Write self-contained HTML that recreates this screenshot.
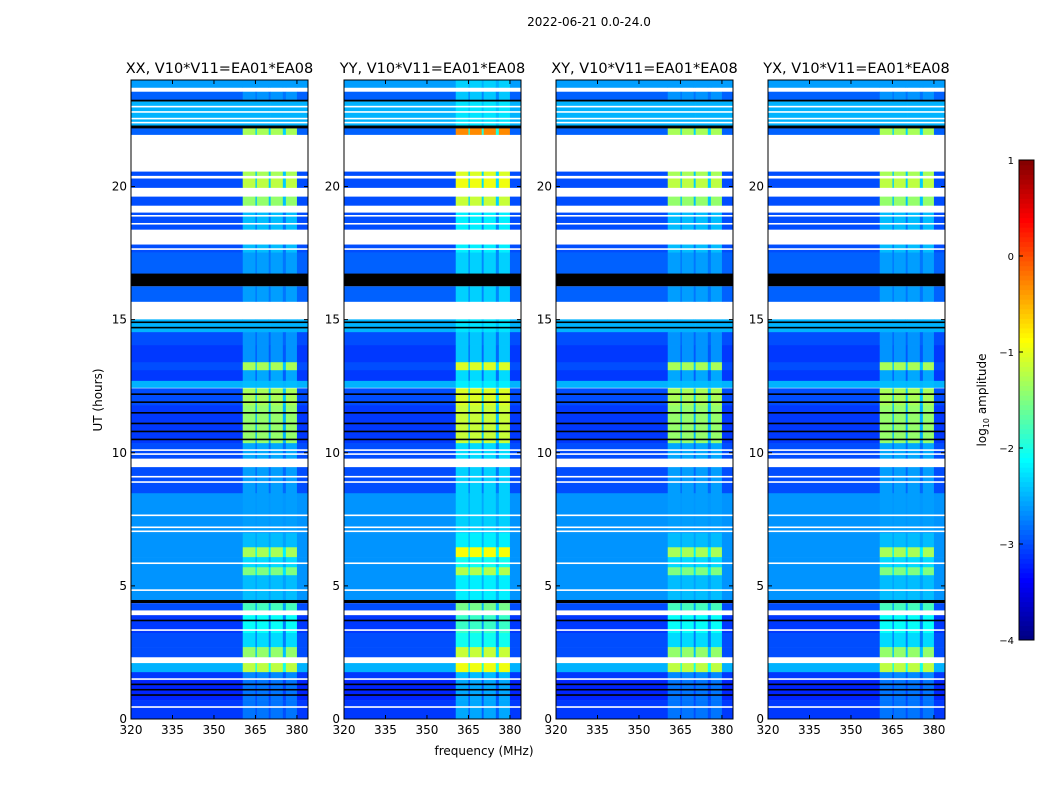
<!DOCTYPE html>
<html><head><meta charset="utf-8"><style>
body{margin:0;background:#fff;}
svg text{font-family:"DejaVu Sans","Liberation Sans",sans-serif;fill:#000;}
</style></head><body>
<svg id="fig" width="1050" height="800" xmlns="http://www.w3.org/2000/svg">
<text x="589" y="26" font-size="12" text-anchor="middle">2022-06-21 0.0-24.0</text>
<text x="484" y="755" font-size="12" text-anchor="middle">frequency (MHz)</text>
<text transform="translate(102,400) rotate(-90)" font-size="12" text-anchor="middle">UT (hours)</text>
<text transform="translate(986,400) rotate(-90)" font-size="12" text-anchor="middle">log<tspan font-size="8" dy="3">10</tspan><tspan dy="-3"> amplitude</tspan></text>
<g id="panels"></g>
<g id="cbar"></g>
</svg>
<script>
const panelTitles=["XX, V10*V11=EA01*EA08","YY, V10*V11=EA01*EA08","XY, V10*V11=EA01*EA08","YX, V10*V11=EA01*EA08"];
const bandOffset=[0,0.25,0,0];
const xTicks=[320,335,350,365,380];
const yTicks=[0,5,10,15,20];
const cbTicks=[1,0,-1,-2,-3,-4];
// segments: start hour, end hour, background log-amp ("W"=no data, "K"=zero), band log-amp
const segStart=[23.72,23.56,23.26,23.19,22.29,22.18,21.95,20.56,20.41,20.30,19.96,19.62,19.29,19.02,18.39,17.82,17.52,16.73,16.25,15.68,15.01,14.53,14.04,13.40,13.10,12.70,12.45,11.78,10.36,9.79,9.46,8.48,7.35,6.98,6.45,6.08,5.70,5.40,4.47,4.35,4.09,3.90,3.23,2.70,2.33,2.10,1.76,1.46,0.71,0];
const segEnd  =[24,23.72,23.56,23.26,23.19,22.29,22.18,21.95,20.56,20.41,20.30,19.96,19.62,19.29,19.02,18.39,17.82,17.52,16.73,16.25,15.68,15.01,14.53,14.04,13.40,13.10,12.70,12.42,11.78,10.36,9.79,9.46,8.48,7.35,6.98,6.45,6.08,5.70,5.40,4.47,4.35,4.09,3.90,3.23,2.70,2.33,2.10,1.76,1.46,0.71];
const segBg   =[-2.6,"W",-2.9,"K",-2.5,"K",-2.9,"W",-3,"W",-3,"W",-3,"W",-3,"W",-3,-2.9,"K",-2.9,"W",-2.5,-3,-3.1,-3,-3.1,-2.5,-3,-3.1,-3,"W",-3,-2.65,-2.65,-2.65,-2.65,-2.65,-2.65,-2.65,"K",-3,"W",-3.1,-3,-3,"W",-2.5,-3.1,-3.2,-3.1];
const segBand =[-2.6,null,-2.65,null,-2.5,null,-1.3,null,-1.3,null,-1.2,null,-1.4,null,-2.45,null,-2.45,-2.6,null,-2.6,null,-2.5,-2.65,-2.65,-1.3,-2.55,-2.45,-1.3,-1.4,-2.55,null,-2.6,-2.6,-2.6,-2.45,-1.3,-2.3,-1.5,-2.45,null,-1.8,null,-2.1,-2.3,-1.4,null,-1.2,-2.7,-2.8,-2.8];
// thin horizontal lines: hour, kind
const lineHours=[23.0,22.8,22.55,22.4,18.9,18.6,17.65,14.9,14.7,12.2,11.9,11.5,11.1,10.8,10.5,10.1,9.95,9.1,8.9,7.65,7.2,7.05,5.85,4.84,3.7,3.34,1.5,1.3,1.1,0.9,0.45];
const lineKinds=["W","W","W","W","W","W","W","K","K","K","K","K","K","K","K","W","W","W","W","W","W","W","W","W","K","W","W","K","K","K","W"];
// YY override
const yyHour=[22.0,6.25];
const yyBand=[-0.3,-0.9];
// frequency columns
const colStart=[320,360.4,365,365.5,369.8,370.5,374.9,376,380];
const colEnd  =[360.4,365,365.5,369.8,370.5,374.9,376,380,384];
const colIsBand=[0,1,0.5,1,0.5,1,0.5,1,0];

(function(){
const NS="http://www.w3.org/2000/svg";
function jet(v){let t=(v+4)/5;t=Math.max(0,Math.min(1,t));
 const c=x=>Math.round(255*Math.max(0,Math.min(1,1.5-Math.abs(4*t-x))));
 return `rgb(${c(3)},${c(2)},${c(1)})`;}
const lefts=[131,344,556,768], W=177, pTop=80, pBot=719;
const xs=(f,p)=>lefts[p]+(f-320)*(W/64);
const ys=h=>pBot-h*((pBot-pTop)/24);
function mk(tag,attrs,parent){const e=document.createElementNS(NS,tag);for(const k in attrs)e.setAttribute(k,attrs[k]);parent.appendChild(e);return e;}
const G=document.getElementById('panels');
for(let p=0;p<4;p++){
 const g=mk('g',{},G);
 
 
 for(let s=0;s<segStart.length;s++){
  const y1=ys(segEnd[s]),y2=ys(segStart[s]);
  const bg=segBg[s];
  if(bg==="W"){continue;}
  if(bg==="K"){const r=mk('rect',{x:lefts[p],y:y1,width:W,height:y2-y1,fill:'#000'},g);
   
   
   continue;}
  let band=segBand[s]===null?bg:segBand[s]+bandOffset[p];
  if(p===1){for(let k=0;k<yyHour.length;k++){if(yyHour[k]>=segStart[s]&&yyHour[k]<segEnd[s])band=yyBand[k];}}
  for(let c=0;c<colStart.length;c++){
   const v=bg+(band-bg)*(colIsBand[c]===1?1:colIsBand[c]===0.5?0.35:0);
   const x1=xs(colStart[c],p),x2=xs(colEnd[c],p);
   const r=mk('rect',{x:x1,y:y1,width:x2-x1+0.3,height:y2-y1+0.3,fill:jet(v)},g);
   
   
  }
 }
 for(let i=0;i<lineHours.length;i++){
  const r=mk('rect',{x:lefts[p],y:ys(lineHours[i])-0.8,width:W,height:1.6,fill:lineKinds[i]==="W"?'#fff':'#000'},g);
  
  
 }
 const fr=mk('rect',{x:lefts[p],y:pTop,width:W,height:pBot-pTop,fill:'none',stroke:'#000','stroke-width':1},g);
 
 
 const tt=mk('text',{x:lefts[p]+W/2,y:73,'font-size':14.5,'text-anchor':'middle'},g);tt.textContent=panelTitles[p];
 
 
 xTicks.forEach(f=>{const x=xs(f,p);
  mk('line',{x1:x,x2:x,y1:pBot,y2:pBot-4,stroke:'#000'},g);mk('line',{x1:x,x2:x,y1:pTop,y2:pTop+4,stroke:'#000'},g);
  const t=mk('text',{x:x,y:pBot+15,'font-size':12,'text-anchor':'middle'},g);t.textContent=f;
  
  });
 yTicks.forEach(h=>{const y=ys(h);
  mk('line',{x1:lefts[p],x2:lefts[p]+4,y1:y,y2:y,stroke:'#000'},g);mk('line',{x1:lefts[p]+W,x2:lefts[p]+W-4,y1:y,y2:y,stroke:'#000'},g);
  const t=mk('text',{x:lefts[p]-4,y:y+4,'font-size':12,'text-anchor':'end'},g);t.textContent=h;
  
  });
}
const C=document.getElementById('cbar');
const cbTop=160,cbBot=640,cbX=1019,cbW=15;
const cv=v=>cbBot-(v+4)/5*(cbBot-cbTop);
for(let i=0;i<100;i++){const v0=-4+5*i/100,v1=-4+5*(i+1)/100;
 const r=mk('rect',{x:cbX,y:cv(v1),width:cbW,height:cv(v0)-cv(v1)+0.5,fill:jet((v0+v1)/2)},C);
 
 }
const cf=mk('rect',{x:cbX,y:cbTop,width:cbW,height:cbBot-cbTop,fill:'none',stroke:'#000'},C);


cbTicks.forEach(v=>{const y=cv(v);
 mk('line',{x1:cbX,x2:cbX+4,y1:y,y2:y,stroke:'#000'},C);
 const t=mk('text',{x:cbX-5,y:y+4,'font-size':10,'text-anchor':'end'},C);t.textContent=v<0?'\u2212'+(-v):v;
 
 });
})();
</script>
</body></html>
